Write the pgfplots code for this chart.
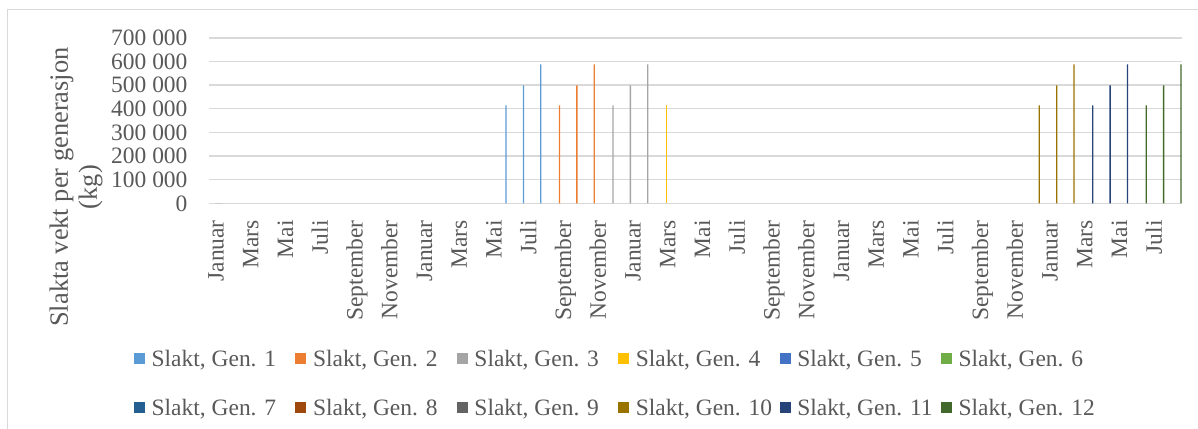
\documentclass[border=0pt]{standalone}
\usepackage{pgfplots}
\pgfplotsset{compat=1.18}
\usepackage{fontspec}
\setmainfont{Liberation Serif}

\definecolor{g1}{HTML}{5B9BD5}
\definecolor{g2}{HTML}{ED7D31}
\definecolor{g3}{HTML}{A5A5A5}
\definecolor{g4}{HTML}{FFC000}
\definecolor{g5}{HTML}{4472C4}
\definecolor{g6}{HTML}{70AD47}
\definecolor{g7}{HTML}{255E91}
\definecolor{g8}{HTML}{9E480E}
\definecolor{g9}{HTML}{636363}
\definecolor{g10}{HTML}{997300}
\definecolor{g11}{HTML}{264478}
\definecolor{g12}{HTML}{43682B}
\definecolor{txt}{HTML}{595959}
\definecolor{gridc}{HTML}{D9D9D9}

\newcommand\cf{\fontsize{17.6}{23.4}\selectfont}
\newcommand\lf{\fontsize{19.8}{21.8}\selectfont}
\newcommand\legtxt[1]{\makebox[107.8pt][l]{#1}}

\begin{document}
\begin{tikzpicture}
\path[use as bounding box] (-157pt,-168.5pt) rectangle (741.5pt,152.5pt);
\draw[gridc, line width=0.75pt] (-151.5pt,-175pt) -- (-151.5pt,145pt) -- (750pt,145pt);
\begin{axis}[
    scale only axis, width=729.75pt, height=124.1pt,
    at={(0pt,0pt)}, anchor=south west,
    xmin=-0.5, xmax=55.5, ymin=0, ymax=700000,
    ybar=0pt, bar width=1pt,
    axis line style={draw=none},
    major tick length=0pt,
    ymajorgrids, grid style={gridc, line width=1pt},
    scaled y ticks=false,
    ytick={0,100000,200000,300000,400000,500000,600000,700000},
    yticklabels={0,100~000,200~000,300~000,400~000,500~000,600~000,700~000},
    xtick={0,2,...,54},
    xticklabels={Januar,Mars,Mai,Juli,September,November,
                 Januar,Mars,Mai,Juli,September,November,
                 Januar,Mars,Mai,Juli,September,November,
                 Januar,Mars,Mai,Juli,September,November,
                 Januar,Mars,Mai,Juli},
    tick label style={font=\cf, text=txt},
    yticklabel style={anchor=east, inner sep=0pt, xshift=-16.2pt},
    xticklabel style={yshift=-12.5pt, rotate=90, anchor=east, inner sep=0pt,
                      text height=12.3pt, text depth=3.9pt},
    ylabel={Slakta vekt per generasjon\\(kg)},
    every axis y label/.style={at={(axis description cs:-0.137,0.0983)},
        rotate=90, anchor=center, align=center, font=\lf, text=txt},
    legend columns=6,
    legend style={draw=none, fill=none, inner sep=0pt, outer sep=0pt,
        at={(axis description cs:0,0)}, anchor=north west,
        xshift=-56.5pt, yshift=-108pt, font=\cf, text=txt,
        row sep=20.75pt,
        /tikz/every odd column/.append style={column sep=5pt},
        /tikz/every even column/.append style={column sep=0pt},
        nodes={inner sep=0pt, text height=14pt, text depth=2pt}},
    every axis plot post/.append style={
        legend image code/.code={\fill[##1] (0pt,-4.125pt) rectangle (8.25pt,4.125pt);}},
]
\addplot[fill=g1, draw=none] coordinates {(17,414000) (18,499000) (19,588000)};
\addlegendentry{\legtxt{Slakt, Gen. 1}}
\addplot[fill=g2, draw=none] coordinates {(20,414000) (21,499000) (22,588000)};
\addlegendentry{\legtxt{Slakt, Gen. 2}}
\addplot[fill=g3, draw=none] coordinates {(23,414000) (24,499000) (25,588000)};
\addlegendentry{\legtxt{Slakt, Gen. 3}}
\addplot[fill=g4, draw=none] coordinates {(26,414000)};
\addlegendentry{\legtxt{Slakt, Gen. 4}}
\addplot[fill=g5, draw=none] coordinates {(0,0)};
\addlegendentry{\legtxt{Slakt, Gen. 5}}
\addplot[fill=g6, draw=none] coordinates {(0,0)};
\addlegendentry{\legtxt{Slakt, Gen. 6}}
\addplot[fill=g7, draw=none] coordinates {(0,0)};
\addlegendentry{\legtxt{Slakt, Gen. 7}}
\addplot[fill=g8, draw=none] coordinates {(0,0)};
\addlegendentry{\legtxt{Slakt, Gen. 8}}
\addplot[fill=g9, draw=none] coordinates {(0,0)};
\addlegendentry{\legtxt{Slakt, Gen. 9}}
\addplot[fill=g10, draw=none] coordinates {(47,414000) (48,499000) (49,588000)};
\addlegendentry{\legtxt{Slakt, Gen. 10}}
\addplot[fill=g11, draw=none] coordinates {(50,414000) (51,499000) (52,588000)};
\addlegendentry{\legtxt{Slakt, Gen. 11}}
\addplot[fill=g12, draw=none] coordinates {(53,414000) (54,499000) (55,588000)};
\addlegendentry{\legtxt{Slakt, Gen. 12}}
\end{axis}
\end{tikzpicture}
\end{document}
